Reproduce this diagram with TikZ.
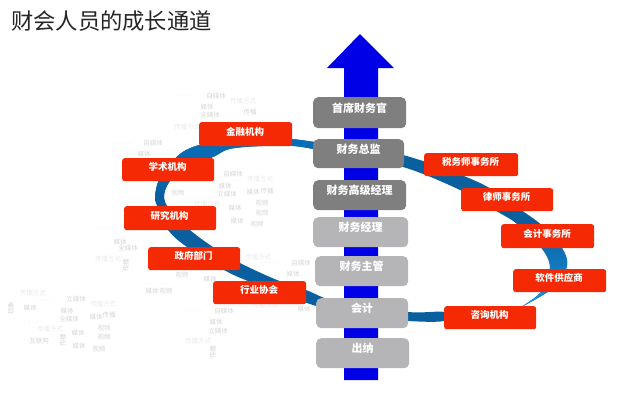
\documentclass[tikz,border=0pt]{standalone}
\usepackage{fontspec}
\setmainfont{Noto Sans CJK SC}
\definecolor{redbox}{HTML}{F52A04}
\definecolor{darkbox}{HTML}{7F7F7F}
\definecolor{lightbox}{HTML}{B5B5B7}
\definecolor{arrowblue}{HTML}{0000E6}
\definecolor{band}{HTML}{0A5F9E}
\definecolor{bandtop}{HTML}{0870BC}
\definecolor{bandlight}{HTML}{1A90DC}
\definecolor{cloud}{HTML}{D6D6D6}
\definecolor{cloudfaint}{HTML}{EAEAEA}
\tikzset{
 redtag/.style={fill=redbox,rounded corners=2.5pt,inner sep=0pt},
 redtext/.style={text=white,font=\fontsize{9.5}{10}\selectfont\bfseries,inner sep=0pt},
 rank/.style={rounded corners=5pt,inner sep=0pt},
 ranktext/.style={text=white,font=\fontsize{11}{12}\selectfont\bfseries,inner sep=0pt},
 cloudtxt/.style={text=cloud,font=\fontsize{6.5}{7}\selectfont,inner sep=0pt},
 cloudlite/.style={text=cloudfaint,font=\fontsize{6.5}{7}\selectfont,inner sep=0pt},
 clouddots/.style={text=cloud,font=\fontsize{4}{4}\selectfont,inner sep=0pt}
}
\newcommand{\redtag}[6]{\node[redtag,minimum width=#3pt-#1pt,minimum height=#4pt-#2pt,anchor=north west] (#5) at (#1,#2) {};
 \node[redtext] at ([xshift=-0.5pt,yshift=2.5pt]#5.center) {#6};}
\newcommand{\rankbox}[7]{\node[rank,fill=#6,minimum width=#3pt-#1pt,minimum height=#4pt-#2pt,anchor=north west] (#5) at (#1,#2) {};
 \node[ranktext] at ([yshift=4.8pt]#5.center) {#7};}
\def\ribbonpath{plot[smooth cycle,tension=0.55] coordinates {
 (444,321)(408,321)(360,316)(313,305)(253,283)(224,270)(187,247)(168,230)(158,208)(155,197)(160,178)(180,154)(203,144)(245,137)(292,139)(340,146)(403,155)(480,183)(524,212)(545,228)(562,248)(567,265)(556,286)(523,306)
 (541,292)(550,269)(543,250)(517,224)(498,212)(460,190)(403,167)(340,155)(293,146)(235,148)(213,157)(175,176)(164,195)(170,210)(190,230)(213,247)(240,263)(277,280)(306,290)(340,303)(408,312)(444,312)}}
\begin{document}
\begin{tikzpicture}[x=1pt,y=-1pt]
\useasboundingbox (0,0) rectangle (640,416);
\fill[white] (0,0) rectangle (640,416);
\node[anchor=west,inner sep=0pt,text=black!85,font=\fontsize{22.3}{24}\selectfont] (title) at (11,21) {财会人员的成长通道};
% word clouds
\foreach \x/\y/\t in {216/96/自媒体,210/115/全媒体,207/107/媒体,250/112/传播,153/143/自媒体,144/154/媒体,233/174/自媒体,225/186/媒体,227/194/立媒体,267/191/传播,253/192/媒体,178/193/视频,262/203/视频,262/213/视频,235/208/媒体,237/221/媒体,257/224/视频,120/242/媒体,128/248/全媒体,301/263/自媒体,293/274/媒体,182/275/视频,210/279/媒体,166/291/视频,152/291/媒体,224/311/自媒体,216/322/媒体,218/331/立媒体,304/309/媒体,76/299/立媒体,67/311/媒体,69/319/全媒体,96/317/媒体,109/315/传播,39/341/互联网,104/328/视频,104/337/视频,78/333/媒体,79/346/媒体,99/349/视频,30/308/媒体}{
 \node[cloudtxt] at (\x,\y) {\t};}
\foreach \x/\y/\t in {243/101/传播方式,187/127/传播方式,260/179/传播方式,207/204/传播方式,108/259/传播方式,258/257/传播方式,198/341/传播方式,265/305/传播方式,33/293/传播方式,103/304/传播方式,50/329/传播方式}{
 \node[cloudlite] at (\x,\y) {\t};}
\foreach \x/\y in {184/97,122/145,103/230,269/264,193/312,44/301,33/323}{
 \node[clouddots] at (\x,\y) {•••••};}
\foreach \x/\y/\t in {11/308/现象,126/265/传播,213/352/传播,63/340/传播}{
 \node[cloudtxt,rotate=90] at (\x,\y) {\t};}
% ribbon
\begin{scope}
\clip \ribbonpath;
\fill[band] (140,120) rectangle (600,330);
\shade[top color=bandtop,bottom color=band] (140,130) rectangle (330,200);
\shade[top color=band,bottom color=bandlight] (500,225) rectangle (600,300);
\fill[bandlight] (500,300) rectangle (600,320);
\end{scope}
% arrow
\fill[arrowblue] (344,380) -- (344,68) -- (327,68) -- (360,34) -- (394,68) -- (378,68) -- (378,380) -- cycle;
% rank boxes
\rankbox{313}{97}{406}{128}{ceo}{darkbox}{首席财务官}
\rankbox{313}{139}{404}{168}{cfo}{darkbox}{财务总监}
\rankbox{313}{180}{406}{210}{senior}{darkbox}{财务高级经理}
\rankbox{313}{217}{408}{247}{manager}{lightbox}{财务经理}
\rankbox{315}{256}{408}{286}{super}{lightbox}{财务主管}
\rankbox{316}{298}{408}{328}{acct}{lightbox}{会计}
\rankbox{316}{338}{409}{368}{cashier}{lightbox}{出纳}
% red tags
\redtag{199}{122}{292}{146}{jr}{金融机构}
\redtag{122}{158}{214}{181}{xs}{学术机构}
\redtag{124}{206}{216}{230}{yj}{研究机构}
\redtag{148}{247}{240}{270}{zf}{政府部门}
\redtag{213}{281}{306}{304}{hy}{行业协会}
\redtag{424}{153}{518}{176}{sw}{税务师事务所}
\redtag{461}{188}{553}{211}{ls}{律师事务所}
\redtag{501}{224}{594}{248}{kj}{会计事务所}
\redtag{513}{269}{606}{292}{rj}{软件供应商}
\redtag{444}{306}{536}{329}{zx}{咨询机构}
\end{tikzpicture}
\end{document}
